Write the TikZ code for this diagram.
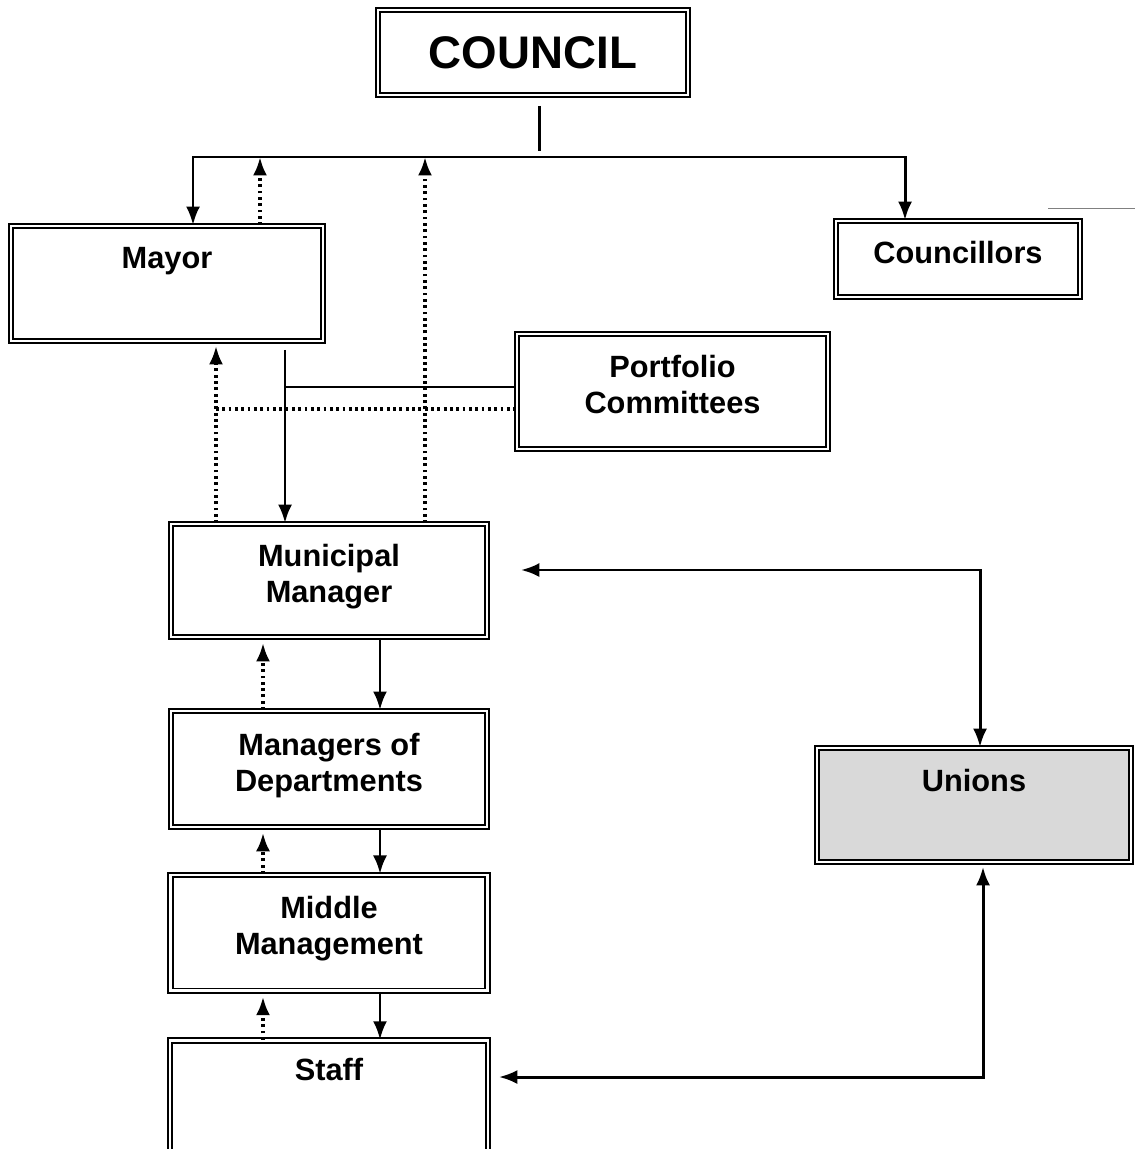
\documentclass[tikz,border=0pt]{standalone}
\usepackage{fontspec}
\setmainfont{Liberation Sans}
\usetikzlibrary{positioning,arrows.meta}
\newcommand{\boxfont}{\bfseries\fontsize{17.5}{20.5}\selectfont}

\begin{document}
\begin{tikzpicture}[x=0.02cm,y=-0.02cm,>={Latex[length=10.5pt,width=8pt]},
                    box/.style={draw, double, line width=1.1pt, double distance=1.5pt,
                                align=center, font=\boxfont, fill=white, text depth=0.28cm},
                    topbox/.style={box, inner ysep=0pt, text height=#1},
                    link/.style={line width=1.7pt},
                    dotlink/.style={line width=2pt, dash pattern=on 1.6pt off 2pt}]
\useasboundingbox (0,0) rectangle (1135,1149);
\node[box, minimum width=6.2cm, minimum height=1.7cm, text depth=0pt,
      font=\bfseries\fontsize{26}{30}\selectfont] (council) at (533,52.5) {COUNCIL};
\node[topbox=0.84cm, text depth=1.46cm, minimum width=6.24cm] (mayor) at (167,283.5) {Mayor};
\node[box, minimum width=4.88cm, minimum height=1.52cm] (councillors) at (958,259) {Councillors};
\node[box, minimum width=6.22cm, minimum height=2.3cm] (portfolio) at (672.5,391.5) {Portfolio\\Committees};
\node[box, minimum width=6.32cm, minimum height=2.26cm] (mm) at (329,580.5) {Municipal\\Manager};
\node[box, minimum width=6.32cm, minimum height=2.32cm, below=1.44cm of mm] (mod) {Managers of\\Departments};
\node[box, minimum width=6.34cm, minimum height=2.32cm, below=0.92cm of mod] (midm) {Middle\\Management};
\node[topbox=0.8cm, text depth=1.6cm, minimum width=6.36cm, below=0.96cm of midm] (staff) {Staff};
\node[topbox=0.86cm, text depth=1.42cm, minimum width=6.28cm, fill=gray!30] (unions) at (974,805) {Unions};

% bus below the council
\coordinate (busL) at (193,157);
\coordinate (busR) at (905,157);
\coordinate (busmid) at (539,157);
\coordinate (b1) at (260,157);
\coordinate (b2) at (425,157);
\draw[link, shorten <=0.2cm, shorten >=0.12cm] (council.south -| busmid) -- (busmid);
\draw[link, <->] (mayor.north -| busL) -- (busL) -- (busR) -- (councillors.north -| busR);
\draw[dotlink, ->] (mayor.north -| b1) -- (b1);
\draw[dotlink, ->] (mm.north -| b2) -- (b2);

% mayor, portfolio committees and municipal manager
\coordinate (m1) at (285,387);
\coordinate (d1) at (216,409);
\draw[link, ->, shorten <=0.16cm] (mayor.south -| m1) -- (mm.north -| m1);
\draw[link] (m1) -- (m1 -| portfolio.west);
\draw[dotlink, ->, shorten >=0.08cm] (mm.north -| d1) -- (mayor.south -| d1);
\draw[dotlink] (d1) -- (d1 -| portfolio.west);

% down the line
\coordinate (cs) at (380,0);
\coordinate (cd) at (263,0);
\draw[link, ->] (mm.south -| cs) -- (mod.north -| cs);
\draw[dotlink, ->, shorten >=0.1cm] (mod.north -| cd) -- (mm.south -| cd);
\draw[link, ->] (mod.south -| cs) -- (midm.north -| cs);
\draw[dotlink, ->, shorten >=0.1cm] (midm.north -| cd) -- (mod.south -| cd);
\draw[link, ->] (midm.south -| cs) -- (staff.north -| cs);
\draw[dotlink, ->, shorten >=0.1cm] (staff.north -| cd) -- (midm.south -| cd);

% unions
\coordinate (u1) at (980,570);
\coordinate (u2) at (983,1077);
\draw[link, <->, shorten <=0.66cm] (mm.east |- u1) -- (u1) -- (unions.north -| u1);
\draw[link, <->, shorten <=0.2cm, shorten >=0.08cm] (staff.east |- u2) -- (u2) -- (unions.south -| u2);

\draw[gray, thin] (1048,208) -- (1135,208);
\end{tikzpicture}
\end{document}
